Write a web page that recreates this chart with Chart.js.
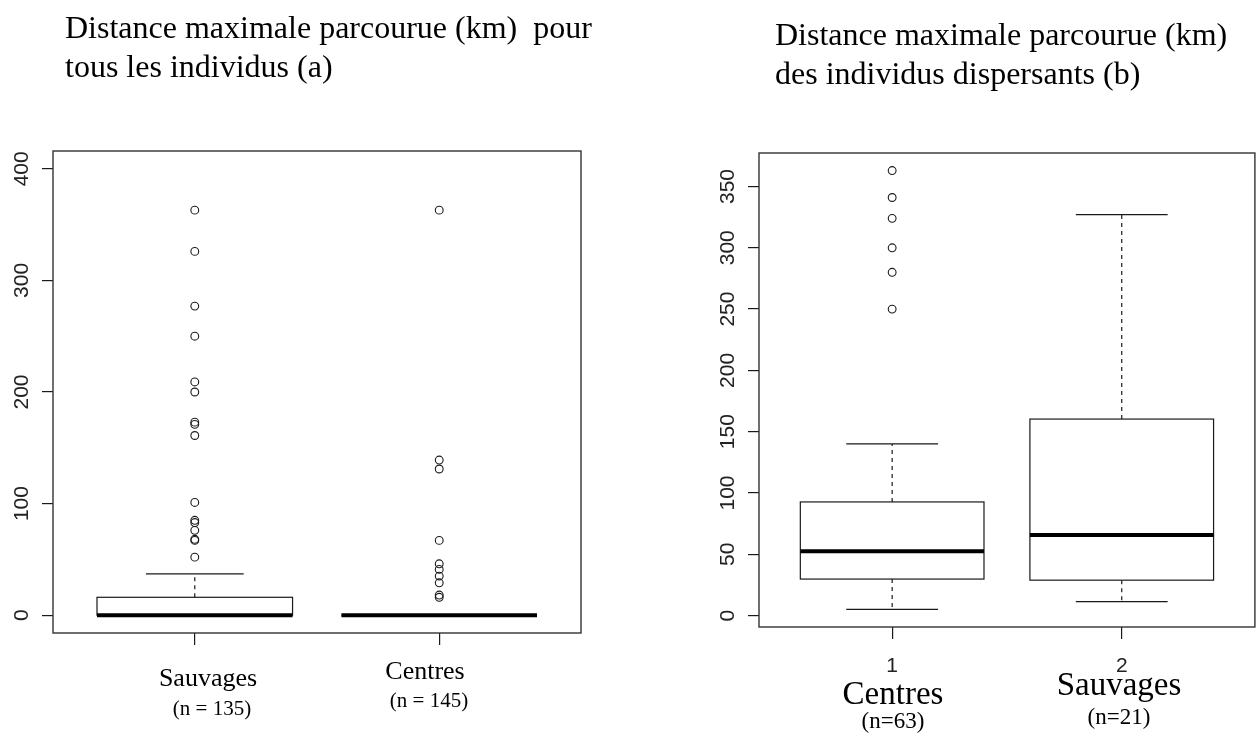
<!DOCTYPE html>
<html><head><meta charset="utf-8">
<script src="https://cdn.jsdelivr.net/npm/chart.js@4/dist/chart.umd.min.js"></script>
<style>
html,body{margin:0;padding:0;background:#fff;}
#wrap{position:relative;width:1260px;height:744px;overflow:hidden;background:#fff;}
.cv{position:absolute;top:0;width:630px;height:744px;}
.t{position:absolute;font-family:"Liberation Serif","Times New Roman",serif;color:#000;white-space:nowrap;line-height:1;}
.c{transform:translate(-50%,-50%);}
.ttl{font-size:32px;line-height:39px;}
</style></head><body>
<div id="wrap">
  <div class="cv" style="left:0"><canvas id="ca" width="630" height="744"></canvas></div>
  <div class="cv" style="left:630px"><canvas id="cb" width="630" height="744"></canvas></div>
  <div class="t ttl" style="left:65px;top:8px">Distance maximale parcourue (km)&nbsp; pour<br>tous les individus (a)</div>
  <div class="t ttl" style="left:775px;top:15px">Distance maximale parcourue (km)<br>des individus dispersants (b)</div>
  <div id="labA"></div>
  <div id="labB"></div>
</div>
<script>
// ---- Data: chart (a) ----
const categoriesA = ['Sauvages', 'Centres'];
const countsA = ['(n = 135)', '(n = 145)'];
const lowA = [0, 0];
const q1A = [0, 0];
const medA = [0, 0];
const q3A = [16, 0];
const highA = [37, 0];
const outSauvagesA = [363, 326, 277, 250, 209, 200, 173, 171, 161, 101, 85, 83, 76, 68, 67, 52];
const outCentresA = [363, 139, 131, 67, 46, 41, 35, 29, 18, 16];
const yTicksA = [0, 100, 200, 300, 400];

// ---- Data: chart (b) ----
const categoriesB = ['Centres', 'Sauvages'];
const countsB = ['(n=63)', '(n=21)'];
const xTickLabelsB = ['1', '2'];
const lowB = [5, 11.4];
const q1B = [29.8, 28.9];
const medB = [52.5, 65.7];
const q3B = [92.7, 160.3];
const highB = [140, 327];
const outCentresB = [363, 341, 324, 300, 280, 250];
const outSauvagesB = [];
const yTicksB = [0, 50, 100, 150, 200, 250, 300, 350];

const BOXWEX = 0.8;
const INK = '#1a1a1a';

const boxPlugin = {
  id: 'rbox',
  beforeDatasetsDraw(chart, args, o) {
    const {ctx, scales: {x, y}} = chart;
    ctx.save();
    for (let i = 0; i < o.q1.length; i++) {
      const cx = x.getPixelForValue(i + 1);
      const half = (x.getPixelForValue(i + 1 + BOXWEX / 2) - x.getPixelForValue(i + 1 - BOXWEX / 2)) / 2;
      const pLow = y.getPixelForValue(o.low[i]), pQ1 = y.getPixelForValue(o.q1[i]);
      const pMed = y.getPixelForValue(o.med[i]), pQ3 = y.getPixelForValue(o.q3[i]);
      const pHigh = y.getPixelForValue(o.high[i]);
      ctx.strokeStyle = INK;
      ctx.lineWidth = 1.2;
      ctx.setLineDash([4, 4]);
      ctx.beginPath();
      ctx.moveTo(cx, pQ3); ctx.lineTo(cx, pHigh);
      ctx.moveTo(cx, pQ1); ctx.lineTo(cx, pLow);
      ctx.stroke();
      ctx.setLineDash([]);
      ctx.beginPath();
      ctx.moveTo(cx - half / 2, pHigh); ctx.lineTo(cx + half / 2, pHigh);
      ctx.moveTo(cx - half / 2, pLow); ctx.lineTo(cx + half / 2, pLow);
      ctx.stroke();
      ctx.fillStyle = '#fff';
      ctx.fillRect(cx - half, pQ3, 2 * half, pQ1 - pQ3);
      ctx.strokeRect(cx - half, pQ3, 2 * half, pQ1 - pQ3);
      ctx.lineWidth = 4;
      ctx.strokeStyle = '#000';
      ctx.beginPath();
      ctx.moveTo(cx - half, pMed); ctx.lineTo(cx + half, pMed);
      ctx.stroke();
    }
    ctx.restore();
  },
  afterDraw(chart, args, o) {
    const {ctx, chartArea: a, scales: {y}} = chart;
    ctx.save();
    ctx.strokeStyle = '#333';
    ctx.lineWidth = 1.4;
    ctx.strokeRect(a.left, a.top, a.right - a.left, a.bottom - a.top);
    ctx.fillStyle = '#222';
    ctx.font = '21px "Liberation Sans", Arial, sans-serif';
    ctx.textAlign = 'center';
    ctx.textBaseline = 'middle';
    y.ticks.forEach(t => {
      const py = y.getPixelForValue(t.value);
      ctx.save();
      ctx.translate(a.left - 31, py);
      ctx.rotate(-Math.PI / 2);
      ctx.fillText(String(t.value), 0, 0);
      ctx.restore();
    });
    ctx.restore();
  }
};

function pts(arr, xv) { return arr.map(v => ({x: xv, y: v})); }

function makeChart(id, cfg) {
  const ptStyle = {pointStyle: 'circle', pointRadius: 3.9, pointBorderWidth: 1.1,
    pointBorderColor: INK, pointBackgroundColor: 'rgba(0,0,0,0)', showLine: false};
  return new Chart(document.getElementById(id), {
    type: 'scatter',
    data: {datasets: cfg.outliers.map((o, i) => Object.assign({label: cfg.cats[i], data: pts(o, i + 1)}, ptStyle))},
    options: {
      responsive: false, animation: false, devicePixelRatio: 1,
      layout: {padding: cfg.padding},
      plugins: {legend: {display: false}, tooltip: {enabled: false}, rbox: cfg.stats},
      scales: {
        x: {type: 'linear', min: 0.42, max: 2.58,
          afterBuildTicks: s => { s.ticks = [{value: 1}, {value: 2}]; },
          afterFit: s => { s.height = 60; },
          border: {display: false},
          grid: {drawOnChartArea: false, drawTicks: true, tickLength: 12, color: INK, lineWidth: 1.2},
          ticks: {display: cfg.xLabels !== null, padding: 15, color: '#222',
            font: {family: '"Liberation Sans", Arial, sans-serif', size: 21},
            callback: v => cfg.xLabels ? cfg.xLabels[v - 1] : ''}
        },
        y: {type: 'linear', min: cfg.ymin, max: cfg.ymax,
          afterBuildTicks: s => { s.ticks = cfg.yTicks.map(v => ({value: v})); },
          afterFit: s => { s.width = cfg.yWidth; },
          border: {display: false},
          grid: {drawOnChartArea: false, drawTicks: true, tickLength: 11, color: INK, lineWidth: 1.2},
          ticks: {display: false}
        }
      }
    },
    plugins: [boxPlugin]
  });
}

makeChart('ca', {
  cats: categoriesA, outliers: [outSauvagesA, outCentresA],
  stats: {low: lowA, q1: q1A, med: medA, q3: q3A, high: highA},
  padding: {left: 0, top: 151, right: 49, bottom: 51},
  ymin: -16, ymax: 416, yTicks: yTicksA, yWidth: 53, xLabels: null
});
makeChart('cb', {
  cats: categoriesB, outliers: [outCentresB, outSauvagesB],
  stats: {low: lowB, q1: q1B, med: medB, q3: q3B, high: highB},
  padding: {left: 0, top: 153, right: 2, bottom: 57},
  ymin: -9.3, ymax: 377.3, yTicks: yTicksB, yWidth: 129, xLabels: xTickLabelsB
});

function addLabel(parent, text, x, y, size) {
  const d = document.createElement('div');
  d.className = 't c';
  d.style.left = x + 'px'; d.style.top = y + 'px'; d.style.fontSize = size + 'px';
  d.textContent = text;
  document.getElementById(parent).appendChild(d);
}
const posA = [[208, 678, 708], [425, 671, 700]];
categoriesA.forEach((c, i) => { addLabel('labA', c, posA[i][0], posA[i][1], 26); addLabel('labA', countsA[i], posA[i][0] + 4, posA[i][2], 21); });
const posB = [[893, 693, 720], [1119, 684, 716]];
categoriesB.forEach((c, i) => { addLabel('labB', c, posB[i][0], posB[i][1], 33); addLabel('labB', countsB[i], posB[i][0], posB[i][2], 23); });
</script>
</body></html>
